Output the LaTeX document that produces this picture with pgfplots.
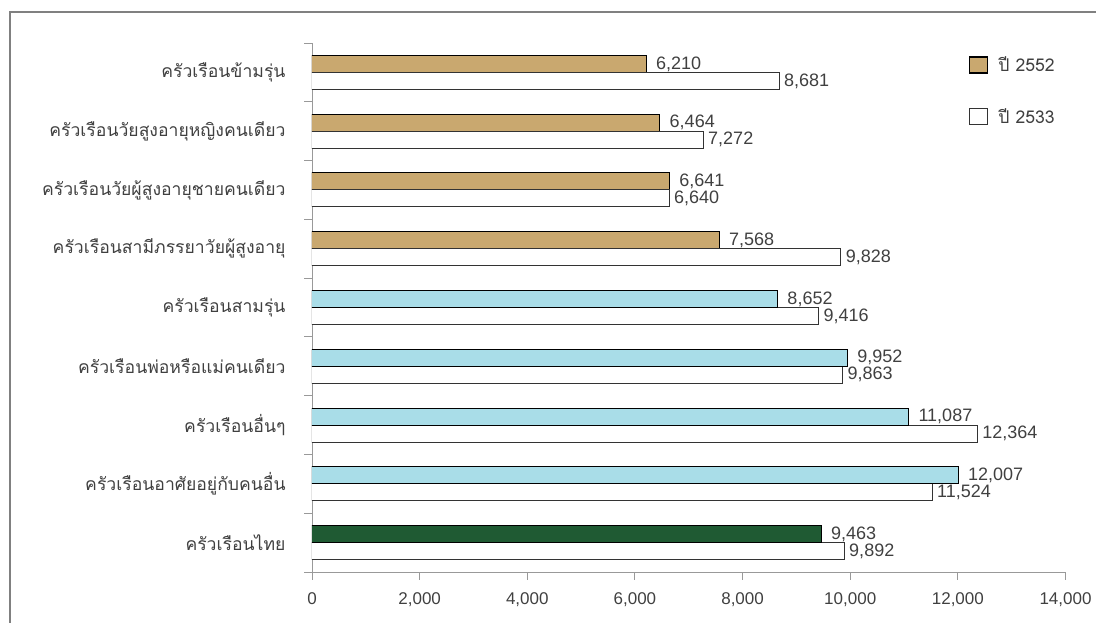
\documentclass[border=0pt]{standalone}
\usepackage{fontspec}
\setmainfont{Liberation Sans}
\newfontfamily\thaifont[Script=Thai]{Loma}
\usepackage{pgfplots}
\pgfplotsset{compat=1.18}
\definecolor{tanbar}{HTML}{C9A86F}
\definecolor{bluebar}{HTML}{A9DDE8}
\definecolor{greenbar}{HTML}{1F5A33}
\definecolor{txt}{HTML}{404040}
\begin{document}
\begin{tikzpicture}[x=1pt,y=1pt]
\useasboundingbox (0,0) rectangle (1096,623);
\draw[gray, line width=1.5pt] (10,0) -- (10,611) -- (1096,611);
\begin{axis}[
  at={(312pt,51pt)}, anchor=south west,
  scale only axis, width=753.5pt, height=529pt,
  xmin=0, xmax=14000, ymin=-0.5, ymax=8.5,
  xbar, bar width=17pt,
  axis x line*=bottom, axis y line*=left,
  axis line style={-, draw=gray!80, line width=0.9pt},
  tick style={draw=gray!80, line width=0.9pt},
  tick align=outside, major tick length=8pt,
  xtick={0,2000,...,14000},
  scaled x ticks=false,
  /pgf/number format/.cd, 1000 sep={,}, fixed, precision=0, assume math mode=true, /pgfplots/.cd,
  xticklabel style={font=\fontsize{17}{20}\selectfont, text=txt, yshift=-9pt},
  ytick={-0.5,0.5,...,8.5}, yticklabels={},
  extra y ticks={0,1,2,3,4,5,6,7,8},
  extra y tick labels={
    ครัวเรือนไทย,
    ครัวเรือนอาศัยอยู่กับคนอื่น,
    ครัวเรือนอื่นๆ,
    ครัวเรือนพ่อหรือแม่คนเดียว,
    ครัวเรือนสามรุ่น,
    ครัวเรือนสามีภรรยาวัยผู้สูงอายุ,
    ครัวเรือนวัยผู้สูงอายุชายคนเดียว,
    ครัวเรือนวัยสูงอายุหญิงคนเดียว,
    ครัวเรือนข้ามรุ่น},
  extra y tick style={tick style={draw=none}, yticklabel style={font=\thaifont\fontsize{17.6}{20}\selectfont, text=txt, xshift=-15pt}},
  every node near coord/.append style={font=\fontsize{18}{20}\selectfont, text=txt, anchor=west},
  legend style={at={(0.868,0.982)}, anchor=north west, draw=none, fill=none,
    font=\thaifont\fontsize{17.6}{20}\selectfont, text=txt, row sep=31pt,
    /tikz/every odd column/.append style={column sep=8pt}},
  legend image code/.code={\draw[#1, line width=1.2pt] (0pt,-8pt) rectangle (18pt,8pt);},
]
% ปี 2552
\addplot[fill=tanbar, draw=black, line width=1pt, bar shift=8.5pt,
  nodes near coords, every node near coord/.append style={xshift=6pt}]
  coordinates {(7568,5) (6641,6) (6464,7) (6210,8)};
\addlegendentry{ปี 2552}
% ปี 2533
\addplot[fill=white, draw=black!80, line width=1pt, bar shift=-8.5pt,
  nodes near coords, every node near coord/.append style={xshift=1pt}]
  coordinates {(9892,0) (11524,1) (12364,2) (9863,3) (9416,4) (9828,5) (6640,6) (7272,7) (8681,8)};
\addlegendentry{ปี 2533}
\addplot[forget plot, fill=bluebar, draw=black, line width=1pt, bar shift=8.5pt,
  nodes near coords, every node near coord/.append style={xshift=6pt}]
  coordinates {(12007,1) (11087,2) (9952,3) (8652,4)};
\addplot[forget plot, fill=greenbar, draw=black, line width=1pt, bar shift=8.5pt,
  nodes near coords, every node near coord/.append style={xshift=6pt}]
  coordinates {(9463,0)};
\end{axis}
\end{tikzpicture}
\end{document}
